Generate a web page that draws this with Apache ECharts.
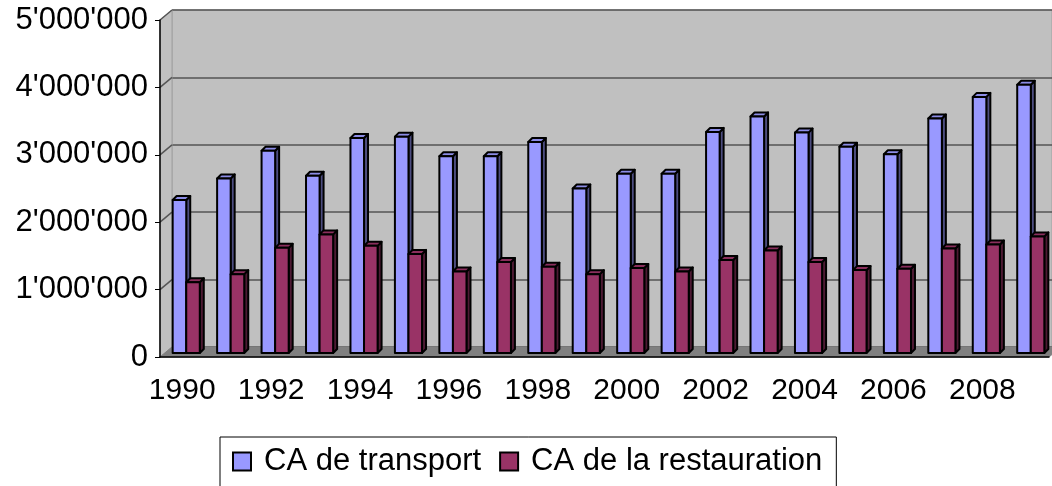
<!DOCTYPE html>
<html>
<head>
<meta charset="utf-8">
<script src="https://cdn.jsdelivr.net/npm/echarts@6/dist/echarts.min.js"></script>
<style>
  html, body { margin: 0; padding: 0; background: #fff; }
  #ec { width: 1052px; height: 486px; }
</style>
</head>
<body>
<div id="ec"></div>
<script>
// donnees
var years = ['1990','1991','1992','1993','1994','1995','1996','1997','1998','1999',
             '2000','2001','2002','2003','2004','2005','2006','2007','2008','2009'];
var transport = [2270000, 2590000, 3000000, 2630000, 3190000, 3210000, 2920000, 2920000, 3130000, 2440000,
                 2660000, 2660000, 3280000, 3510000, 3270000, 3060000, 2950000, 3480000, 3800000, 3980000];
var restauration = [1050000, 1170000, 1560000, 1760000, 1590000, 1470000, 1210000, 1350000, 1280000, 1170000,
                    1260000, 1210000, 1380000, 1520000, 1350000, 1230000, 1250000, 1550000, 1610000, 1730000];
var yTicks = [0, 1000000, 2000000, 3000000, 4000000, 5000000];

var FONT = 'Liberation Sans';
var DX = 12, DY = -10;   // profondeur du mur du fond
var BD = 4;              // profondeur des barres

function fmt(v) {
    return String(v).replace(/\B(?=(\d{3})+(?!\d))/g, "'");
}

// murs (cote gauche + sol)
function wallsRender(params, api) {
    var cs = params.coordSys;
    var bottom = cs.y + cs.height;
    var kids = [];
    kids.push({
        type: 'polygon',
        shape: { points: [[cs.x, cs.y], [cs.x + DX, cs.y + DY], [cs.x + DX, bottom + DY], [cs.x, bottom]] },
        style: { fill: '#c0c0c0', stroke: '#a0a0a0', lineWidth: 1 }
    });
    yTicks.forEach(function (t) {
        if (t === 0) return;
        var y = api.coord([0, t])[1];
        kids.push({
            type: 'line',
            shape: { x1: cs.x, y1: y, x2: cs.x + DX, y2: y + DY },
            style: { stroke: '#555', lineWidth: 1.5 }
        });
    });
    kids.push({
        type: 'polygon',
        shape: { points: [[cs.x, bottom], [cs.x + DX, bottom + DY], [cs.x + cs.width + DX, bottom + DY], [cs.x + cs.width, bottom]] },
        style: { fill: '#808080', stroke: '#808080', lineWidth: 1 }
    });
    return { type: 'group', children: kids };
}

function barRender(k, front, side, top) {
    return function (params, api) {
        var idx = api.value(0);
        var val = api.value(1);
        var base = api.coord([idx, 0]);
        var tip = api.coord([idx, val]);
        var band = api.size([1, 0])[0];
        var w = band * 0.305;
        var x0 = base[0] + 4 - w + k * w;
        var x1 = x0 + w;
        var yb = base[1] - 4;
        var yt = tip[1] - 4;
        var st = { stroke: '#000', lineWidth: 2, lineJoin: 'round' };
        return {
            type: 'group',
            children: [
                { type: 'polygon', shape: { points: [[x1, yt], [x1 + BD, yt - BD], [x1 + BD, yb - BD], [x1, yb]] },
                  style: Object.assign({ fill: side }, st) },
                { type: 'polygon', shape: { points: [[x0, yt], [x0 + BD, yt - BD], [x1 + BD, yt - BD], [x1, yt]] },
                  style: Object.assign({ fill: top }, st) },
                { type: 'rect', shape: { x: x0, y: yt, width: w, height: yb - yt },
                  style: Object.assign({ fill: front }, st) }
            ]
        };
    };
}

var myChart = echarts.init(document.getElementById('ec'));

var option = {
    animation: false,
    backgroundColor: '#fff',
    textStyle: { fontFamily: FONT },
    grid: [
        { left: 160, top: 20, width: 889, height: 337 },
        { left: 172, top: 10, width: 889, height: 337, show: true,
          backgroundColor: '#c0c0c0', borderColor: '#a0a0a0', borderWidth: 1 }
    ],
    xAxis: [
        {
            type: 'category', gridIndex: 0, data: years, z: 10,
            axisLine: { lineStyle: { color: '#000', width: 1.5 } },
            axisTick: { interval: 0, length: 5, lineStyle: { color: '#000', width: 1 } },
            axisLabel: { interval: 1, color: '#000', fontSize: 30, fontFamily: FONT, margin: 19 }
        },
        {
            type: 'category', gridIndex: 1, data: years, show: false
        }
    ],
    yAxis: [
        {
            type: 'value', gridIndex: 0, min: 0, max: 5000000, interval: 1000000, z: 10,
            axisLine: { show: true, lineStyle: { color: '#000', width: 1.5 } },
            axisTick: { show: true, length: 5, lineStyle: { color: '#000', width: 1 } },
            axisLabel: { color: '#000', fontSize: 31, fontFamily: FONT, margin: 12, formatter: fmt },
            splitLine: { show: false }
        },
        {
            type: 'value', gridIndex: 1, min: 0, max: 5000000, interval: 1000000,
            axisLine: { show: false }, axisTick: { show: false }, axisLabel: { show: false },
            splitLine: { show: true, lineStyle: { color: '#555', width: 1.5 } }
        }
    ],
    legend: {
        data: ['CA de transport', 'CA de la restauration'],
        left: 220, top: 437,
        orient: 'horizontal',
        icon: 'rect',
        itemWidth: 18, itemHeight: 18, itemGap: 18,
        padding: [9, 14, 16, 12],
        borderColor: '#000', borderWidth: 1,
        textStyle: { fontSize: 31, color: '#000', fontFamily: FONT, padding: [0, 0, 0, 8] }
    },
    series: [
        {
            name: 'walls', type: 'custom', xAxisIndex: 0, yAxisIndex: 0, z: 1, silent: true,
            renderItem: wallsRender, data: [[0, 0]]
        },
        {
            name: 'CA de transport', type: 'custom', xAxisIndex: 0, yAxisIndex: 0, z: 3,
            itemStyle: { color: '#9999ff', borderColor: '#000', borderWidth: 1.5 },
            encode: { x: 0, y: 1 },
            renderItem: barRender(0, '#9999ff', '#4d4d80', '#8c8ce6'),
            data: transport.map(function (v, i) { return [i, v]; })
        },
        {
            name: 'CA de la restauration', type: 'custom', xAxisIndex: 0, yAxisIndex: 0, z: 4,
            itemStyle: { color: '#993366', borderColor: '#000', borderWidth: 1.5 },
            encode: { x: 0, y: 1 },
            renderItem: barRender(1, '#993366', '#4d1a33', '#8a2e5c'),
            data: restauration.map(function (v, i) { return [i, v]; })
        }
    ]
};

myChart.setOption(option);
</script>
</body>
</html>
